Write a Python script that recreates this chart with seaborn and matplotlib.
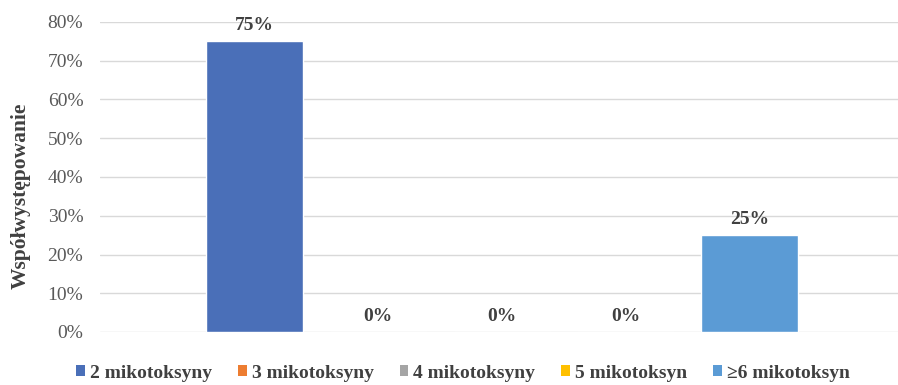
import matplotlib
matplotlib.use("Agg")
import matplotlib.pyplot as plt
from matplotlib.patches import Patch
import seaborn as sns
import pandas as pd

# Co-occurrence share by number of mycotoxins detected
categories = ["2 mikotoksyny", "3 mikotoksyny", "4 mikotoksyny", "5 mikotoksyn", "\u22656 mikotoksyn"]
values = [0.75, 0.0, 0.0, 0.0, 0.25]
colors = ["#4A6FB8", "#ED7D31", "#A5A5A5", "#FFC000", "#5B9BD5"]
y_ticks = [0.0, 0.1, 0.2, 0.3, 0.4, 0.5, 0.6, 0.7, 0.8]
y_label = "Współwystępowanie"

df = pd.DataFrame({"kategoria": categories, "udzial": values})

sns.set_theme(style="white")
plt.rcParams["font.family"] = ["Liberation Serif", "DejaVu Serif"]

fig = plt.figure(figsize=(8.98, 3.85), dpi=100)
ax = fig.add_axes([100 / 898, 1 - 332 / 385, 798 / 898, 310 / 385])

sns.barplot(data=df, x="kategoria", y="udzial", hue="kategoria",
            palette=colors, dodge=False, width=0.785, legend=False,
            saturation=1, ax=ax)

ax.set_ylim(0, 0.8)
ax.set_xlim(-1.25, 5.2)
ax.set_yticks(y_ticks)
ax.set_yticklabels([f"{int(round(t * 100))}%" for t in y_ticks],
                   color="#595959", fontsize=14)
ax.set_xticks([])
ax.set_xlabel("")
ax.set_ylabel(y_label, fontsize=15.5, fontweight="bold", color="#404040")
ax.yaxis.set_label_coords(-0.087, 0.439)
ax.tick_params(axis="y", length=0, pad=12)
ax.grid(axis="y", color="#D9D9D9", linewidth=1)
ax.set_axisbelow(True)
for s in ax.spines.values():
    s.set_visible(False)

for container in ax.containers:
    labels = [f"{int(round(b.get_height() * 100))}%" for b in container]
    ax.bar_label(container, labels=labels, padding=5, fontsize=14,
                 fontweight="bold", color="#404040")

handles = [Patch(facecolor=c, edgecolor="none", label=n) for c, n in zip(colors, categories)]
fig.legend(handles=handles, loc="center", bbox_to_anchor=(463 / 898, 1 - 373 / 385),
           ncol=5, frameon=False, handlelength=0.45, handleheight=0.45,
           handletextpad=0.25, columnspacing=1.35, borderpad=0,
           prop={"size": 14, "weight": "bold"}, labelcolor="#404040")

fig.savefig("out.png", dpi=100)
